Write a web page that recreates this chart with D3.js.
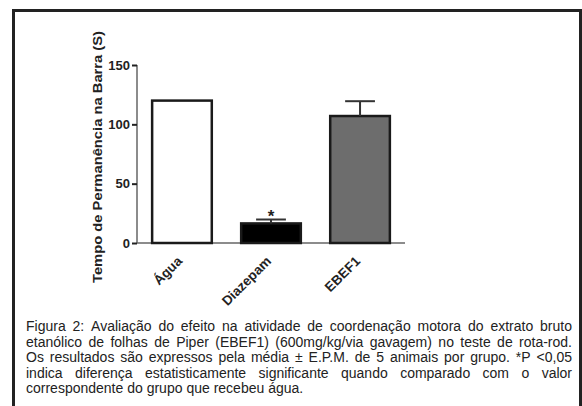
<!DOCTYPE html>
<html>
<head>
<meta charset="utf-8">
<script src="https://cdn.jsdelivr.net/npm/d3@7"></script>
<style>
  html, body { margin: 0; padding: 0; background: #fff; }
  svg { display: block; }
  text { font-family: "Liberation Sans", Arial, sans-serif; }
</style>
</head>
<body>
<svg id="chart" width="582" height="406"></svg>
<script>
const categories = ["Água", "Diazepam", "EBEF1"];
const means = [120, 16.5, 107];
const errors = [0, 3.3, 12.5];
const fills = ["#ffffff", "#000000", "#6d6d6d"];
const yTicks = [0, 50, 100, 150];
const significance = ["", "*", ""];
const yTitle = "Tempo de Permanência na Barra (S)";
const captionLines = [
  "Figura 2: Avaliação do efeito na atividade de coordenação motora do extrato bruto",
  "etanólico de folhas de Piper (EBEF1) (600mg/kg/via gavagem) no teste de rota-rod.",
  "Os resultados são expressos pela média ± E.P.M. de 5 animais por grupo. *P <0,05",
  "indica diferença estatisticamente significante quando comparado com o valor",
  "correspondente do grupo que recebeu água."
];

const svg = d3.select("#chart");
const FONT = '"Liberation Sans", Arial, sans-serif';

// frame
svg.append("path")
  .attr("d", "M13.5,406 L13.5,10.5 L580.5,10.5 L580.5,406")
  .attr("fill", "none").attr("stroke", "#222").attr("stroke-width", 3);

const x = d3.scaleBand().domain(categories).range([137, 405]).paddingInner(0.33).paddingOuter(0.17);
const y = d3.scaleLinear().domain([0, 150]).range([243, 65]);

// y axis
const yAxis = svg.append("g").attr("transform", "translate(137,0)")
  .call(d3.axisLeft(y).tickValues(yTicks).tickSize(5).tickPadding(2));
yAxis.select(".domain").attr("stroke", "#666").attr("stroke-width", 1.5)
  .attr("d", `M0,${y(150)}V${y(0)}`);
yAxis.selectAll(".tick line").attr("stroke", "#222").attr("stroke-width", 2);
yAxis.selectAll(".tick text").attr("font-size", 13).attr("font-weight", "bold")
  .attr("fill", "#222").attr("font-family", FONT);

// x axis line
const xAxis = svg.append("g").attr("transform", `translate(0,${y(0)})`)
  .call(d3.axisBottom(x).tickSize(0).tickPadding(0));
xAxis.select(".domain").attr("stroke", "#666").attr("stroke-width", 1.5)
  .attr("d", "M137,0H405");
xAxis.selectAll(".tick text")
  .attr("font-size", 13.5).attr("font-weight", "bold").attr("fill", "#222")
  .attr("font-family", FONT)
  .attr("text-anchor", "end")
  .attr("dy", null).attr("y", 0)
  .attr("transform", "translate(1,19) rotate(-45)");

// bars
svg.selectAll("rect.bar").data(categories).join("rect")
  .attr("class", "bar")
  .attr("x", d => x(d))
  .attr("width", x.bandwidth())
  .attr("y", (d, i) => y(means[i]))
  .attr("height", (d, i) => y(0) - y(means[i]))
  .attr("fill", (d, i) => fills[i])
  .attr("stroke", "#1a1a1a").attr("stroke-width", 2.5);

// error bars (upper only)
categories.forEach((c, i) => {
  if (errors[i] <= 0) return;
  const cx = x(c) + x.bandwidth() / 2;
  const g = svg.append("g").attr("stroke", "#333").attr("stroke-width", 2);
  g.append("line").attr("x1", cx).attr("x2", cx).attr("y1", y(means[i])).attr("y2", y(means[i] + errors[i]));
  g.append("line").attr("x1", cx - x.bandwidth() / 4).attr("x2", cx + x.bandwidth() / 4)
    .attr("y1", y(means[i] + errors[i])).attr("y2", y(means[i] + errors[i]));
  if (significance[i]) {
    svg.append("text").attr("x", cx).attr("y", y(means[i] + errors[i]) + 2)
      .attr("text-anchor", "middle").attr("font-size", 17).attr("font-weight", "bold")
      .attr("fill", "#222").text(significance[i]);
  }
});

// y title
svg.append("text")
  .attr("transform", "translate(102,157) rotate(-90)")
  .attr("text-anchor", "middle")
  .attr("font-size", 13.5).attr("font-weight", "bold").attr("fill", "#222")
  .attr("textLength", 252).attr("lengthAdjust", "spacingAndGlyphs")
  .text(yTitle);

// caption (justified)
const capLeft = 26, capRight = 572, capTop = 331, lineH = 15.5;
captionLines.forEach((line, li) => {
  const words = line.split(" ");
  const yy = capTop + li * lineH;
  const g = svg.append("g");
  const texts = words.map(w => g.append("text").attr("y", yy).attr("font-size", 14)
    .attr("fill", "#222").text(w));
  const widths = texts.map(t => t.node().getComputedTextLength());
  const total = d3.sum(widths);
  const isLast = li === captionLines.length - 1;
  const gap = isLast ? 3.9 : (capRight - capLeft - total) / (words.length - 1);
  let cx = capLeft;
  texts.forEach((t, i) => { t.attr("x", cx); cx += widths[i] + gap; });
});
</script>
</body>
</html>
